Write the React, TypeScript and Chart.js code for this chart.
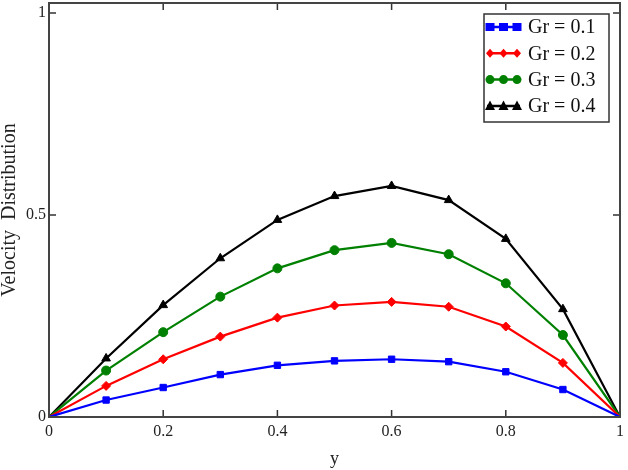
import React, { useEffect, useRef } from "react";
import { Chart, registerables } from "chart.js";

Chart.register(...registerables);

const yValues = [0, 0.1, 0.2, 0.3, 0.4, 0.5, 0.6, 0.7, 0.8, 0.9, 1];
const gr01 = [0, 0.042, 0.073, 0.105, 0.128, 0.139, 0.143, 0.137, 0.112, 0.068, 0];
const gr02 = [0, 0.077, 0.143, 0.199, 0.246, 0.276, 0.285, 0.273, 0.224, 0.134, 0];
const gr03 = [0, 0.115, 0.21, 0.298, 0.368, 0.413, 0.431, 0.403, 0.331, 0.203, 0];
const gr04 = [0, 0.145, 0.277, 0.393, 0.488, 0.547, 0.572, 0.537, 0.441, 0.267, 0];
const seriesLabels = ["Gr = 0.1", "Gr = 0.2", "Gr = 0.3", "Gr = 0.4"];
const xTicks = [0, 0.2, 0.4, 0.6, 0.8, 1];
const yTicks = [0, 0.5, 1];

const SERIF = "'Liberation Serif', 'Times New Roman', serif";

const framePlugin = {
  id: "frameTicks",
  afterDraw(chart: any) {
    const { ctx, chartArea } = chart;
    const { left, right, top, bottom } = chartArea;
    const xs = chart.scales.x;
    const ys = chart.scales.y;
    ctx.save();
    ctx.strokeStyle = "#333";
    ctx.lineWidth = 1.5;
    const tl = 7;
    ctx.beginPath();
    xTicks.forEach((v) => {
      const px = xs.getPixelForValue(v);
      if (v > 0 && v < 1) {
        ctx.moveTo(px, bottom);
        ctx.lineTo(px, bottom - tl);
        ctx.moveTo(px, top);
        ctx.lineTo(px, top + tl);
      }
    });
    yTicks.forEach((v) => {
      const py = ys.getPixelForValue(v);
      if (v > 0) {
        ctx.moveTo(left, py);
        ctx.lineTo(left + tl, py);
        ctx.moveTo(right, py);
        ctx.lineTo(right - tl, py);
      }
    });
    ctx.stroke();
    ctx.lineWidth = 2;
    ctx.strokeStyle = "#444";
    ctx.strokeRect(left, top, right - left, bottom - top);

    // legend
    const bx = right - 136;
    const by = top + 11;
    const bw = 125;
    const bh = 108;
    ctx.fillStyle = "#fff";
    ctx.fillRect(bx, by, bw, bh);
    ctx.lineWidth = 1.5;
    ctx.strokeStyle = "#333";
    ctx.strokeRect(bx, by, bw, bh);
    chart.data.datasets.forEach((ds: any, i: number) => {
      const cy = by + 13 + i * 26.3;
      ctx.strokeStyle = ds.borderColor;
      ctx.fillStyle = ds.borderColor;
      ctx.lineWidth = 2.5;
      ctx.beginPath();
      ctx.moveTo(bx + 3, cy);
      ctx.lineTo(bx + 36, cy);
      ctx.stroke();
      [bx + 6, bx + 19.5, bx + 33].forEach((mx) => {
        ctx.beginPath();
        const st = ds.pointStyle;
        if (st === "rect") {
          ctx.rect(mx - 4.5, cy - 4, 9, 8);
        } else if (st === "rectRot") {
          ctx.moveTo(mx, cy - 4.5);
          ctx.lineTo(mx + 4, cy);
          ctx.lineTo(mx, cy + 4.5);
          ctx.lineTo(mx - 4, cy);
          ctx.closePath();
        } else if (st === "circle") {
          ctx.arc(mx, cy, 4.5, 0, Math.PI * 2);
        } else {
          ctx.moveTo(mx, cy - 5.5);
          ctx.lineTo(mx + 5, cy + 4);
          ctx.lineTo(mx - 5, cy + 4);
          ctx.closePath();
        }
        ctx.fill();
      });
      ctx.fillStyle = "#111";
      ctx.font = `20px ${SERIF}`;
      ctx.textBaseline = "middle";
      ctx.textAlign = "left";
      ctx.fillText(ds.label, bx + 44, cy + 1);
    });
    ctx.restore();
  },
};

const zeroPad = (s: any) => {
  s.paddingTop = 0;
  s.paddingBottom = 0;
  s.paddingLeft = 0;
  s.paddingRight = 0;
};

export default function App() {
  const ref = useRef<HTMLCanvasElement | null>(null);

  useEffect(() => {
    if (!ref.current) return;
    const mk = (label: string, data: number[], color: string, style: string, r: number) => ({
      label,
      data: yValues.map((x, i) => ({ x, y: data[i] })),
      borderColor: color,
      backgroundColor: color,
      borderWidth: 2.2,
      pointStyle: style,
      pointRadius: (c: any) => (c.dataIndex === 0 || c.dataIndex === yValues.length - 1 ? 0 : r),
      pointBorderWidth: 1,
      tension: 0,
    });
    const chart = new Chart(ref.current, {
      type: "line",
      data: {
        datasets: [
          mk(seriesLabels[0], gr01, "#0000ff", "rect", 4.5),
          mk(seriesLabels[1], gr02, "#ff0000", "rectRot", 4.5),
          mk(seriesLabels[2], gr03, "#008000", "circle", 4.5),
          mk(seriesLabels[3], gr04, "#000000", "triangle", 5),
        ] as any,
      },
      options: {
        animation: false,
        responsive: false,
        layout: { padding: { top: 3, right: 8, left: 0, bottom: 0 } },
        plugins: { legend: { display: false }, tooltip: { enabled: false } },
        scales: {
          x: {
            type: "linear",
            min: 0,
            max: 1,
            grid: { display: false, drawTicks: false },
            border: { display: false },
            afterBuildTicks: (s: any) => {
              s.ticks = xTicks.map((v) => ({ value: v }));
            },
            afterFit: (s: any) => {
              s.height = 53;
              zeroPad(s);
            },
            ticks: {
              padding: 5,
              maxRotation: 0,
              color: "#222",
              font: { family: SERIF, size: 16 },
              callback: (v: any) => String(v),
            },
            title: {
              display: true,
              text: "y",
              color: "#222",
              font: { family: SERIF, size: 18 },
              padding: { top: 0, bottom: 0 },
            },
          },
          y: {
            type: "linear",
            min: 0,
            max: 1.025,
            grid: { display: false, drawTicks: false },
            border: { display: false },
            afterBuildTicks: (s: any) => {
              s.ticks = yTicks.map((v) => ({ value: v }));
            },
            afterFit: (s: any) => {
              s.width = 49;
              zeroPad(s);
            },
            ticks: {
              padding: 3,
              color: "#222",
              font: { family: SERIF, size: 16 },
              callback: (v: any) => String(v),
            },
            title: {
              display: true,
              text: "Velocity  Distribution",
              color: "#222",
              font: { family: SERIF, size: 20 },
              padding: { top: -2, bottom: 0 },
            },
          },
        },
      },
      plugins: [framePlugin],
    });
    return () => chart.destroy();
  }, []);

  return (
    <div style={{ position: "absolute", left: 0, top: 0, width: 628, height: 470, background: "#fff" }}>
      <canvas ref={ref} width={628} height={470} />
    </div>
  );
}
